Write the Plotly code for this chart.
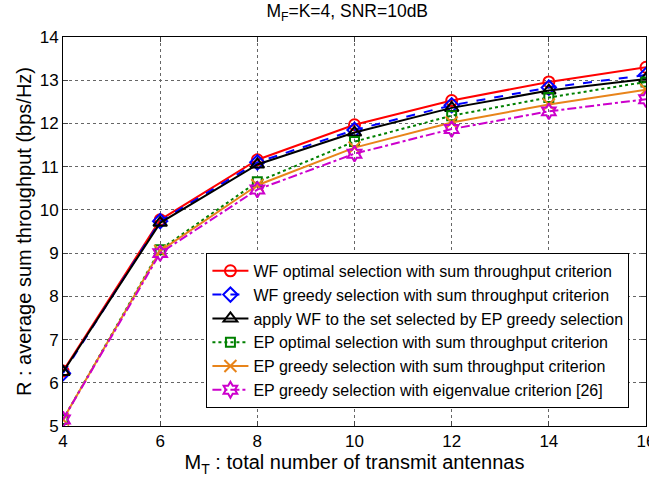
import plotly.graph_objects as go

x_vals = [4, 6, 8, 10, 12, 14, 16]
wf_opt = [6.27, 9.77, 11.16, 11.97, 12.53, 12.96, 13.30]
wf_greedy = [6.22, 9.74, 11.10, 11.85, 12.42, 12.83, 13.12]
wf_ep = [6.25, 9.70, 11.05, 11.79, 12.36, 12.76, 13.03]
ep_opt = [5.15, 9.08, 10.65, 11.58, 12.18, 12.60, 12.96]
ep_greedy = [5.15, 9.05, 10.57, 11.44, 12.02, 12.44, 12.78]
ep_eig = [5.15, 9.00, 10.47, 11.30, 11.87, 12.28, 12.56]

names = [
    "WF optimal selection with sum throughput criterion",
    "WF greedy selection with sum throughput criterion",
    "apply WF to the set selected by EP greedy selection",
    "EP optimal selection with sum throughput criterion",
    "EP greedy selection with sum throughput criterion",
    "EP greedy selection with eigenvalue criterion [26]",
]
series = [wf_opt, wf_greedy, wf_ep, ep_opt, ep_greedy, ep_eig]
colors = ["#ff0000", "#0000ff", "#000000", "#008000", "#e8841a", "#cc00cc"]
dashes = ["solid", "dash", "solid", "dot", "solid", "dashdot"]
symbols = ["circle-open", "diamond-open", "triangle-up-open", "square-open", "x-thin-open", "hexagram-open"]
sizes = [11, 11, 12, 9, 12, 12]

fig = go.Figure()
for nm, ys, c, d, s, sz in zip(names, series, colors, dashes, symbols, sizes):
    fig.add_trace(go.Scatter(
        x=x_vals, y=ys, name=nm, mode="lines+markers",
        line=dict(color=c, dash=d, width=2),
        marker=dict(symbol=s, size=sz, color=c, line=dict(color=c, width=2)),
    ))

font = "Liberation Sans, Arial, sans-serif"
fig.update_layout(
    width=649, height=478,
    margin=dict(l=63, r=3, t=37, b=52),
    paper_bgcolor="white", plot_bgcolor="white",
    font=dict(family=font, color="black", size=17),
    title=dict(text="M<sub>F</sub>=K=4, SNR=10dB", x=0.535, xanchor="center",
               y=0.99, yanchor="top", font=dict(size=17.5)),
    showlegend=True,
    legend=dict(x=0.246, y=0.445, xanchor="left", yanchor="top",
                bgcolor="white", bordercolor="black", borderwidth=1,
                font=dict(size=16), tracegroupgap=0, itemwidth=36),
)
fig.update_xaxes(
    range=[4, 16], tickvals=x_vals, ticks="inside", ticklen=5,
    ticklabeloverflow="allow",
    showline=True, linecolor="black", linewidth=1, mirror="ticks",
    showgrid=True, gridcolor="#666666", griddash="dot", gridwidth=1,
    zeroline=False, automargin=False,
    title=dict(text="M<sub>T</sub> : total number of transmit antennas", font=dict(size=20), standoff=0),
)
fig.update_yaxes(
    range=[5, 14], dtick=1, ticks="inside", ticklen=5,
    showline=True, linecolor="black", linewidth=1, mirror="ticks",
    showgrid=True, gridcolor="#666666", griddash="dot", gridwidth=1,
    zeroline=False, automargin=False,
    title=dict(text="R : average sum throughput (bps/Hz)", font=dict(size=20), standoff=2),
)
fig.write_html("out.html")
